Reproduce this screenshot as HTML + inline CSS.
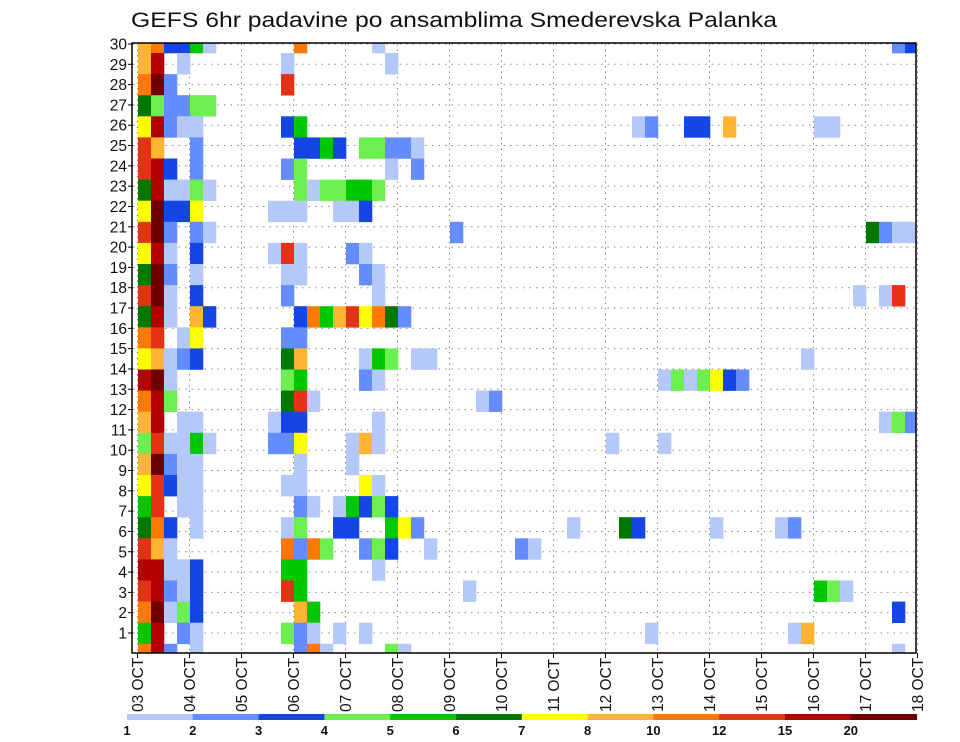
<!DOCTYPE html>
<html><head><meta charset="utf-8">
<style>
html,body{margin:0;padding:0;background:#fff;}
svg{display:block;font-family:"Liberation Sans",sans-serif;}
</style></head>
<body>
<svg id="chart" width="960" height="742" viewBox="0 0 960 742" xmlns="http://www.w3.org/2000/svg">
<text x="131" y="27" font-size="21" fill="#111" textLength="646" lengthAdjust="spacingAndGlyphs">GEFS 6hr padavine po ansamblima Smederevska Palanka</text>
<g id="grid"></g>
<defs><clipPath id="plotclip"><rect x="133" y="43" width="783" height="610"/></clipPath></defs>
<g id="cells" clip-path="url(#plotclip)"></g>
<rect x="132" y="43" width="784" height="610" fill="none" stroke="#000" stroke-width="1.5"/>
<g id="yaxis"></g>
<g id="xaxis"></g>
<g id="cbar"></g>
</svg>
<script>
// member rows (top to bottom), each "column:level" where level is index into levelColors (1..9,a,b,c)
const members = [
"0:8,1:9,2:3,3:3,4:5,5:1,12:9,18:1,58:2,59:3",
"0:8,1:b,3:1,11:1,19:1",
"0:9,1:c,2:2,11:a",
"0:6,1:4,2:2,3:2,4:4,5:4",
"0:7,1:b,2:2,3:1,4:1,11:3,12:5,38:1,39:2,42:3,43:3,45:8,52:1,53:1",
"0:a,1:8,4:2,12:3,13:3,14:5,15:3,17:4,18:4,19:2,20:2,21:1",
"0:a,1:b,2:3,4:2,11:2,12:4,19:1,21:2",
"0:6,1:b,2:1,3:1,4:4,5:1,12:4,13:1,14:4,15:4,16:5,17:5,18:4",
"0:7,1:c,2:3,3:3,4:7,10:1,11:1,12:1,15:1,16:1,17:3",
"0:a,1:c,2:2,4:2,5:1,24:2,56:6,57:2,58:1,59:1",
"0:7,1:b,2:1,4:3,10:1,11:a,12:1,16:2,17:1",
"0:6,1:c,2:2,4:1,11:1,12:1,17:2,18:1",
"0:a,1:c,2:1,4:3,11:2,18:1,55:1,57:1,58:a",
"0:6,1:b,2:1,4:8,5:3,12:3,13:9,14:5,15:8,16:a,17:7,18:9,19:6,20:2",
"0:9,1:a,3:1,4:7,11:2,12:2",
"0:7,1:8,2:1,3:2,4:3,11:6,12:8,17:1,18:5,19:4,21:1,22:1,51:1",
"0:b,1:c,2:1,11:4,12:5,17:2,18:1,40:1,41:4,42:1,43:4,44:7,45:3,46:2",
"0:9,1:b,2:4,11:6,12:a,13:1,26:1,27:2",
"0:8,1:b,3:1,4:1,10:1,11:3,12:3,18:1,57:1,58:4,59:2",
"0:4,1:a,2:1,3:1,4:5,5:1,10:2,11:2,12:7,16:1,17:8,18:1,36:1,40:1",
"0:8,1:c,2:2,3:1,4:1,12:1,16:1",
"0:7,1:a,2:3,3:1,4:1,11:1,12:1,17:7,18:1",
"0:5,1:a,3:1,4:1,12:2,13:1,15:1,16:5,17:3,18:4,19:3",
"0:6,1:9,2:3,4:1,11:1,12:4,15:3,16:3,19:5,20:7,21:2,33:1,37:6,38:3,44:1,49:1,50:2",
"0:a,1:8,2:1,11:9,12:2,13:9,14:4,17:2,18:4,19:3,22:1,29:2,30:1",
"0:b,1:b,2:1,3:1,4:3,11:5,12:5,18:1",
"0:a,1:b,2:2,3:1,4:3,11:a,12:5,25:1,52:5,53:4,54:1",
"0:9,1:c,2:1,3:4,4:3,12:8,13:5,58:3",
"0:5,1:b,3:2,4:1,11:4,12:2,13:1,15:1,17:1,39:1,50:1,51:8",
"0:9,1:b,2:2,4:1,12:2,13:9,14:1,19:4,20:1,58:1"
];
const levelLabels = ["1","2","3","4","5","6","7","8","10","12","15","20"];
const levelColors = ["#b4c8fa","#648cff","#1446e6","#6cf050","#00c800","#007800","#ffff00","#ffb432","#ff7800","#e63214","#b40000","#6e0000"];
const dayLabels = ["03","04","05","06","07","08","09","10","11","12","13","14","15","16","17","18"];
const yLabels = [30,29,28,27,26,25,24,23,22,21,20,19,18,17,16,15,14,13,12,11,10,9,8,7,6,5,4,3,2,1];

const NS="http://www.w3.org/2000/svg";
function mk(tag, attrs, parent){const e=document.createElementNS(NS,tag);for(const k in attrs)e.setAttribute(k,attrs[k]);parent.appendChild(e);return e;}
const xCell = i => 138 + i*13;
const CW = 13;
const rowTop = j => 53 + (j-1)*21.1;
const RH = 21.1;
const xDay = k => 137.5 + k*52;
const yLab = v => 44 + (30-v)*20.31;
const levelIdx = ch => parseInt(ch,16)-1;

const grid=document.getElementById('grid');
yLabels.forEach(v=>{
  const l=mk('line',{x1:133,x2:916,y1:yLab(v),y2:yLab(v),stroke:'#8a8a8a','stroke-width':1,'stroke-dasharray':'1.5,5'},grid);
  
  
});
dayLabels.forEach((d,k)=>{
  const l=mk('line',{x1:xDay(k),x2:xDay(k),y1:44,y2:652,stroke:'#8a8a8a','stroke-width':1,'stroke-dasharray':'1.5,4'},grid);
  
  
});

const cells=document.getElementById('cells');
members.forEach((row,j)=>{
  row.split(',').forEach(p=>{
    const [c,lv]=p.split(':');
    const r=mk('rect',{x:xCell(+c),y:rowTop(j),width:CW+0.3,height:RH+0.3,fill:levelColors[levelIdx(lv)]},cells);
    
    
  });
});

const ya=document.getElementById('yaxis');
yLabels.forEach(v=>{
  const y=yLab(v);
  const t=mk('line',{x1:128,x2:133,y1:y,y2:y,stroke:'#000','stroke-width':1},ya);
  
  
  const tx=mk('text',{x:127,y:y+5.5,'text-anchor':'end','font-size':15.5,fill:'#111'},ya);
  tx.textContent=v;
  
  
});

const xa=document.getElementById('xaxis');
dayLabels.forEach((d,k)=>{
  const x=xDay(k);
  const t=mk('line',{x1:x,x2:x,y1:653,y2:658,stroke:'#000','stroke-width':1},xa);
  
  
  const tx=mk('text',{x:0,y:0,transform:'translate('+(x+5.5)+',712) rotate(-90)','font-size':15.5,fill:'#111'},xa);
  tx.textContent=d+' OCT';
  
  
});

const cb=document.getElementById('cbar');
const cbX = i => 127 + i*65.8;
levelColors.forEach((col,i)=>{
  const r=mk('rect',{x:cbX(i),y:714,width:66.3,height:6,fill:col},cb);
  
  
});
levelLabels.forEach((lab,i)=>{
  const t=mk('text',{x:cbX(i),y:735,'text-anchor':'middle','font-size':13,'font-weight':'bold',fill:'#111'},cb);
  t.textContent=lab;
  
  
});
</script>
</body></html>
